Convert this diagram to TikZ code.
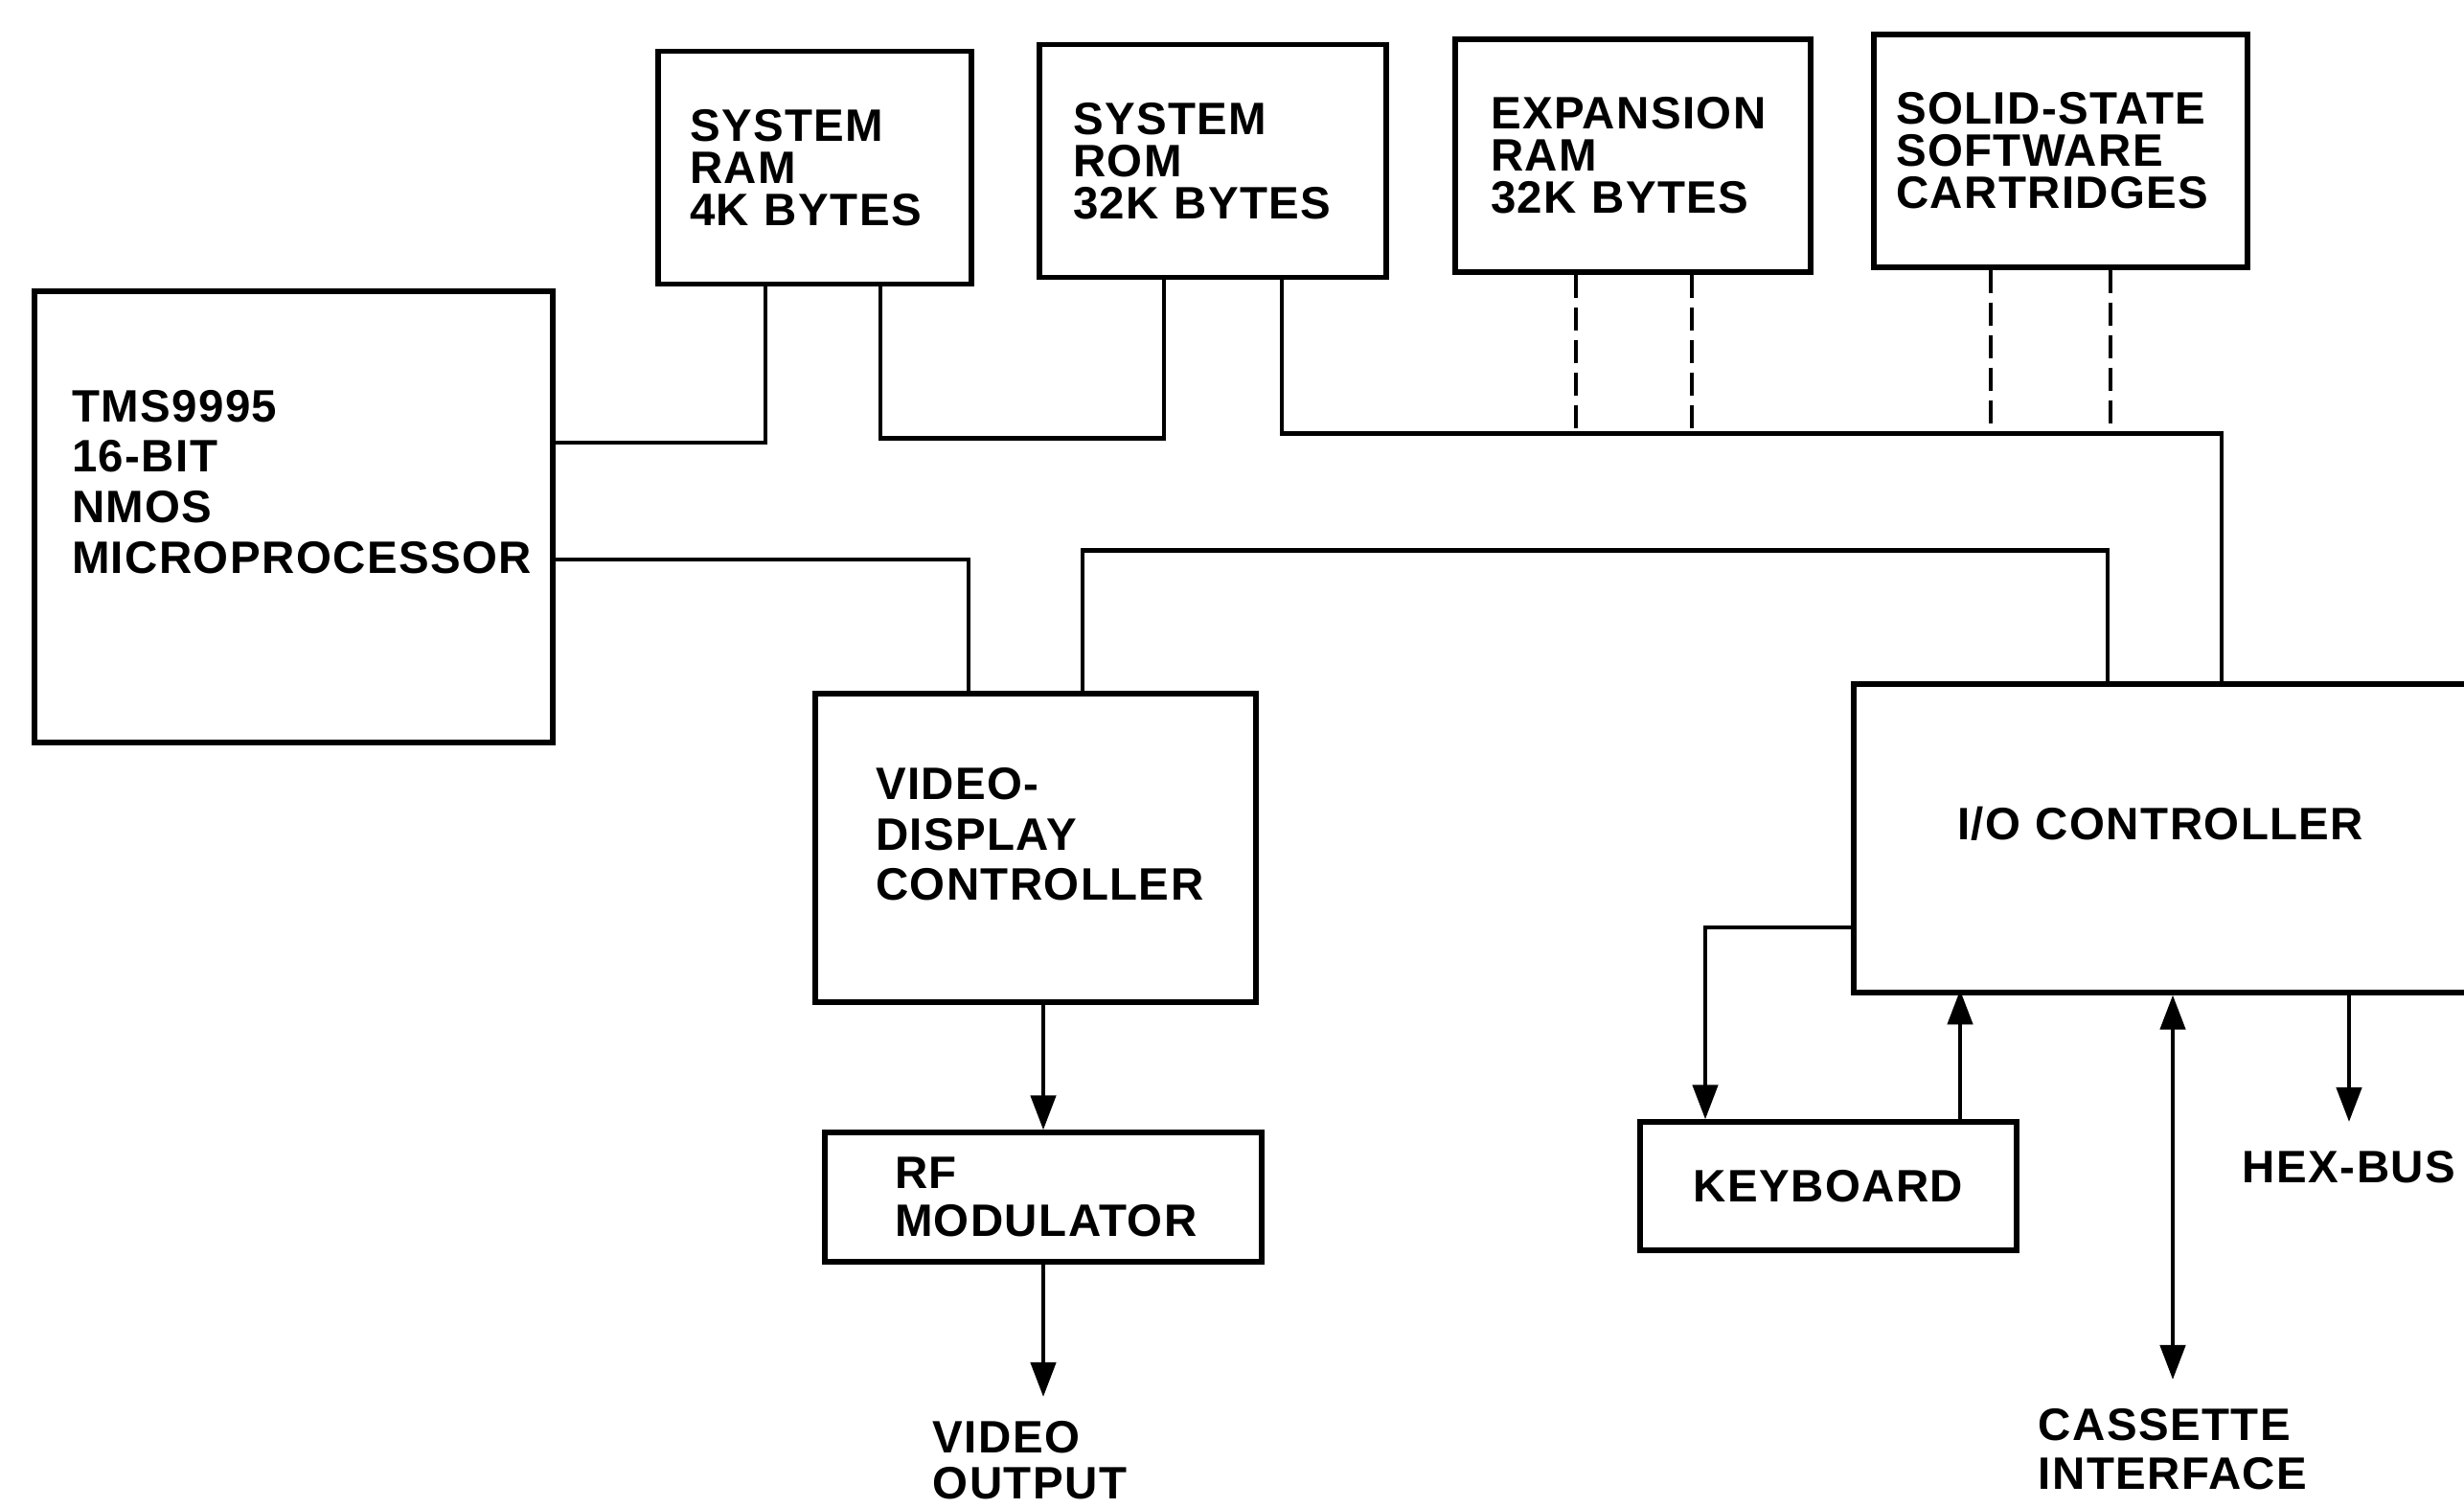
\documentclass[tikz,border=0pt]{standalone}
\usepackage{fontspec}
\setmainfont{Liberation Sans}[LetterSpace=3.0, WordSpace=1.8]
\usetikzlibrary{arrows.meta}

\begin{document}
\begin{tikzpicture}[
		box/.style	= {rectangle, draw, line width=1.5pt, font=\bfseries\fontsize{13.5}{15}\selectfont},
		mem/.style	= {box, minimum height=2.43cm, font=\bfseries\fontsize{13.5}{12.5}\selectfont},
		txt/.style	= {align=left, inner ysep=0.3cm, font=\bfseries\fontsize{13.5}{14.5}\selectfont},
		w/.style	= {line width=1.3pt},
		d/.style	= {line width=1.3pt, dash pattern=on 0.24cm off 0.1cm},
		a/.style	= {-{Triangle[length=3.6mm, width=2.6mm]}, line width=1.3pt},
		aa/.style	= {{Triangle[length=3.6mm, width=2.6mm]}-{Triangle[length=3.6mm, width=2.6mm]}, line width=1.3pt}
		]
		\useasboundingbox (0, 0) rectangle (25.72, 15.74);
		\clip (0, 0) rectangle (25.72, 15.74);
		
		% === === Nodes === ===
		\node[box, text width=4.63cm, inner xsep=0.39cm, minimum height=4.71cm, text depth=2.32cm]
						(cpu)	at	(3.065, 10.345)	{TMS9995\\16-BIT\\NMOS\\MICROPROCESSOR};
		\node[mem, text width=2.61cm, inner xsep=0.33cm]	(ram)	at	(8.505, 13.99)	{SYSTEM\\RAM\\4K BYTES};
		\node[mem, text width=2.92cm, inner xsep=0.35cm]	(rom)	at	(12.66, 14.06)	{SYSTEM\\ROM\\32K BYTES};
		\node[mem, text width=2.97cm, inner xsep=0.37cm]	(exp)	at	(17.045, 14.115)	{EXPANSION\\RAM\\32K BYTES};
		\node[mem, text width=3.44cm, inner xsep=0.23cm]	(cart)	at	(21.51, 14.165)	{SOLID-STATE\\SOFTWARE\\CARTRIDGES};
		
		\node[box, text width=3.34cm, inner xsep=0.63cm, minimum height=3.22cm, text depth=1.34cm]
						(vdc)	at	(10.81, 6.89)	{VIDEO-\\DISPLAY\\CONTROLLER};
		\node[box, text width=3.10cm, inner xsep=0.73cm, minimum height=1.35cm, font=\bfseries\fontsize{13.5}{14}\selectfont]
						(rf)	at	(10.89, 3.245)	{RF\\MODULATOR};
		\node[box, text width=4.69cm, inner xsep=1.08cm, minimum height=3.22cm, text depth=0.32cm]
						(io)	at	(22.775, 6.99)	{I/O CONTROLLER};
		\node[box, minimum width=3.93cm, minimum height=1.34cm]	(kbd)	at	(19.085, 3.36)	{KEYBOARD};
		
		\node[txt, anchor=north, inner ysep=0.25cm, font=\bfseries\fontsize{13.5}{13.5}\selectfont]
						(vout)	at	(10.75, 1.16)	{VIDEO\\OUTPUT};
		\node[txt, anchor=north]	(cas)	at	(22.68, 1.34)	{CASSETTE\\INTERFACE};
		\node[txt, anchor=north]	(hex)	at	(24.52, 4.03)	{HEX-BUS};
		
		
		
		% === === Lines === ===
		\draw[w]	([yshift=7.75mm]cpu.east)	-|	([xshift=-5.15mm]ram.south);
		\draw[w]	([yshift=-4.45mm]cpu.east)	-|	([xshift=-7mm]vdc.north);
		\draw[w]	([xshift=6.85mm]ram.south)	--	++(0, -1.585)	-|	([xshift=-5.1mm]rom.south);
		\draw[w]	([xshift=7.2mm]rom.south)	--	++(0, -1.605)	-|	([xshift=4.15mm]io.north);
		\draw[w]	([xshift=4.9mm]vdc.north)	--	++(0, 1.47)	-|	([xshift=-7.75mm]io.north);
		
		\draw[d]	([xshift=-5.95mm]exp.south)	--	++(0, -1.665);
		\draw[d]	([xshift=6.15mm]exp.south)	--	++(0, -1.665);
		\draw[d]	([xshift=-7.3mm]cart.south)	--	++(0, -1.715);
		\draw[d]	([xshift=5.2mm]cart.south)	--	++(0, -1.715);
		
		\draw[a]	(vdc.south -| rf.north)	--	(rf.north);
		\draw[a]	(rf.south)	--	(rf.south |- vout.north);
		
		\draw[a]	([yshift=-9.3mm]io.west)	-|	([xshift=-12.85mm]kbd.north);
		\draw[a]	([xshift=13.75mm]kbd.north)	--	++(0, 1.35);
		\draw[aa]	(io.south -| cas.north)	--	(cas.north);
		\draw[a]	(io.south -| hex.north)	--	(hex.north);
		
	\end{tikzpicture}
\end{document}
